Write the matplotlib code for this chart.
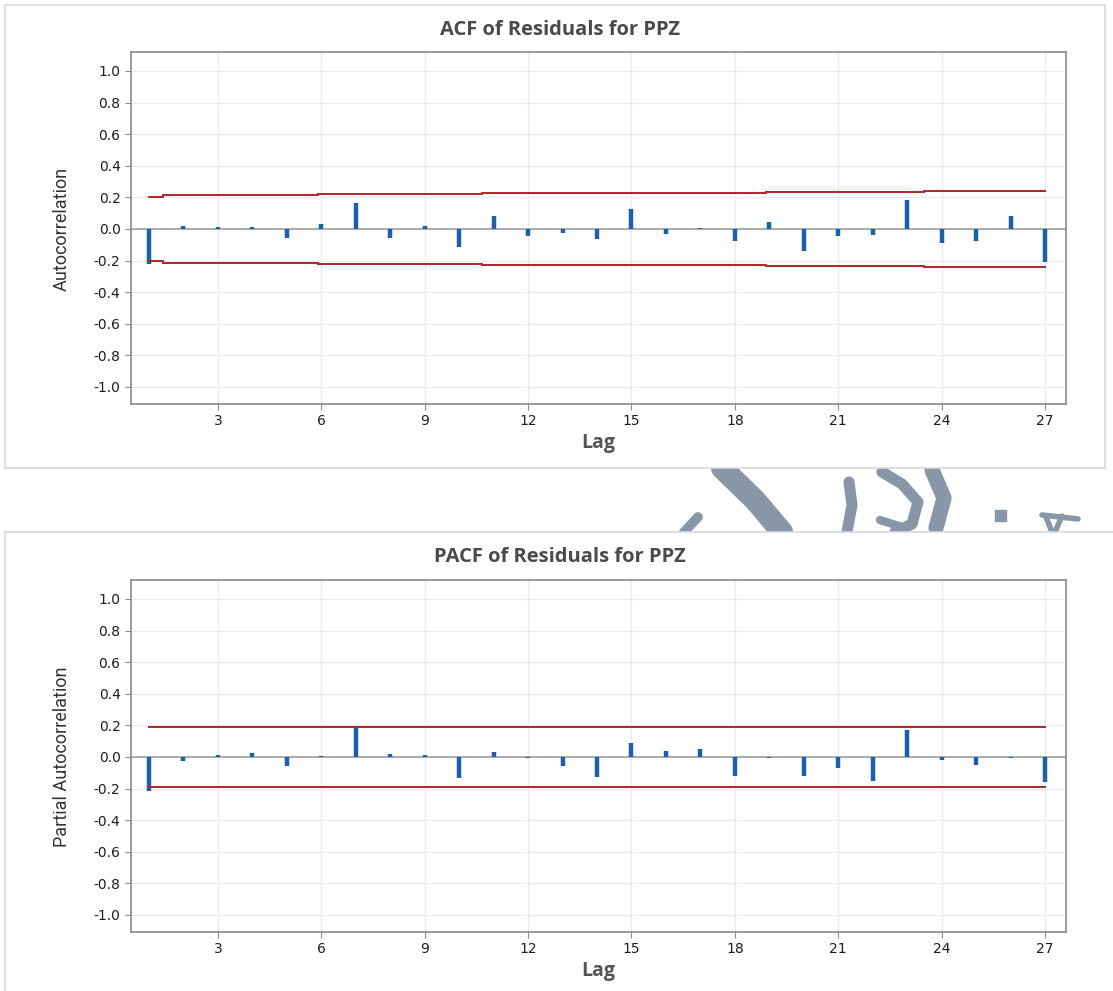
import matplotlib
matplotlib.use("Agg")
import matplotlib.pyplot as plt
from matplotlib.patches import Rectangle
from matplotlib.lines import Line2D

plt.rcParams["font.family"] = ["DejaVu Sans"]

lags = list(range(1, 28))
acf_vals = [-0.22, 0.02, 0.015, 0.015, -0.06, 0.034, 0.162, -0.057, 0.021, -0.116,
            0.084, -0.044, -0.025, -0.064, 0.124, -0.034, 0.008, -0.074, 0.042, -0.139,
            -0.042, -0.038, 0.184, -0.086, -0.078, 0.08, -0.207]
pacf_vals = [-0.217, -0.027, 0.015, 0.027, -0.055, 0.006, 0.181, 0.021, 0.013, -0.131,
             0.034, -0.004, -0.055, -0.124, 0.089, 0.04, 0.049, -0.12, -0.004, -0.122,
             -0.072, -0.15, 0.169, -0.019, -0.051, -0.008, -0.156]
# ACF significance limit (step function): breakpoints and values
acf_lim_x = [1, 1.4, 5.9, 10.65, 18.9, 23.5, 27]
acf_lim_v = [0.200, 0.213, 0.220, 0.226, 0.233, 0.241]
pacf_lim = 0.19
xticks = [3, 6, 9, 12, 15, 18, 21, 24, 27]
yticks = [-1.0, -0.8, -0.6, -0.4, -0.2, 0.0, 0.2, 0.4, 0.6, 0.8, 1.0]

W, H = 1113, 991
fig = plt.figure(figsize=(W / 100, H / 100), dpi=100)

def fx(px):
    return px / W

def fy(py):
    return 1 - py / H

# watermark fragments in the gap between panels
wm = "#8797a8"
strokes = [
    ([(684, 532), (698, 517)], 7),
    ([(722, 468), (755, 500), (782, 532)], 16),
    ([(849, 482), (852, 505), (847, 532)], 8),
    ([(882, 472), (902, 484), (918, 502), (912, 524), (895, 532)], 8),
    ([(932, 470), (944, 498), (936, 528)], 11),
    ([(880, 520), (902, 527)], 6),
    ([(1042, 515), (1078, 519)], 4),
    ([(1046, 517), (1052, 532)], 4),
    ([(1062, 516), (1055, 532)], 4),
]
for pts, lw in strokes:
    xs = [fx(p[0]) for p in pts]
    ys = [fy(p[1]) for p in pts]
    fig.add_artist(Line2D(xs, ys, color=wm, lw=lw, solid_capstyle="round", zorder=0))
fig.add_artist(Rectangle((fx(995), fy(521)), fx(11), 11 / H, color=wm, zorder=0))

# panel boxes
for (x0, y0, x1, y1) in [(5, 5, 1105, 468), (5, 532, 1116, 995)]:
    fig.add_artist(Rectangle((fx(x0), fy(y1)), fx(x1 - x0), (y1 - y0) / H,
                             facecolor="white", edgecolor="#d9d9d9", lw=1.2, zorder=1))

def setup(ax, title, ylabel, title_y, lag_y, ylab_y):
    ax.set_xlim(0.478, 27.61)
    ax.set_ylim(-1.108, 1.12)
    ax.set_xticks(xticks)
    ax.set_yticks(yticks)
    ax.set_yticklabels([f"{v:.1f}" for v in yticks])
    ax.grid(True, color="#ececec", lw=1)
    ax.set_axisbelow(True)
    for s in ax.spines.values():
        s.set_color("#8a8a8a")
        s.set_linewidth(1.2)
    ax.tick_params(axis="both", direction="out", length=4, color="#8a8a8a",
                   labelsize=10, labelcolor="#1e1e1e")
    ax.tick_params(top=False, right=False)
    ax.axhline(0, color="#a0a0a0", lw=1.2, zorder=2)
    fig.text(fx(560), fy(title_y), title, ha="center", va="center",
             fontsize=14.5, fontweight="bold", color="#4a4a4a",
             family=["Open Sans", "DejaVu Sans"])
    fig.text(fx(598), fy(lag_y), "Lag", ha="center", va="center",
             fontsize=14, fontweight="bold", color="#555555",
             family=["Open Sans", "DejaVu Sans"])
    fig.text(fx(62), fy(ylab_y), ylabel, rotation=90, ha="center", va="center",
             fontsize=13, color="#333333", fontstretch="condensed",
             family=["Liberation Sans Narrow", "Roboto", "DejaVu Sans"])

ax1 = fig.add_axes([fx(131), fy(404), fx(1066 - 131), (404 - 52) / H], zorder=2)
ax2 = fig.add_axes([fx(131), fy(932), fx(1066 - 131), (932 - 580) / H], zorder=2)

blue = "#1a5fb0"
red = "#b22424"

ax1.vlines(lags, 0, acf_vals, color=blue, lw=3.2, zorder=3)
for i in range(len(acf_lim_v)):
    xs = [acf_lim_x[i], acf_lim_x[i + 1]]
    ax1.plot(xs, [acf_lim_v[i]] * 2, color=red, lw=1.4, zorder=3)
    ax1.plot(xs, [-acf_lim_v[i]] * 2, color=red, lw=1.4, zorder=3)

ax2.vlines(lags, 0, pacf_vals, color=blue, lw=3.2, zorder=3)
ax2.plot([1, 27], [pacf_lim, pacf_lim], color=red, lw=1.4, zorder=3)
ax2.plot([1, 27], [-pacf_lim, -pacf_lim], color=red, lw=1.4, zorder=3)

setup(ax1, "ACF of Residuals for PPZ", "Autocorrelation", 30, 443, 229)
setup(ax2, "PACF of Residuals for PPZ", "Partial Autocorrelation", 557, 971, 757)

fig.savefig("out.png", dpi=100)
